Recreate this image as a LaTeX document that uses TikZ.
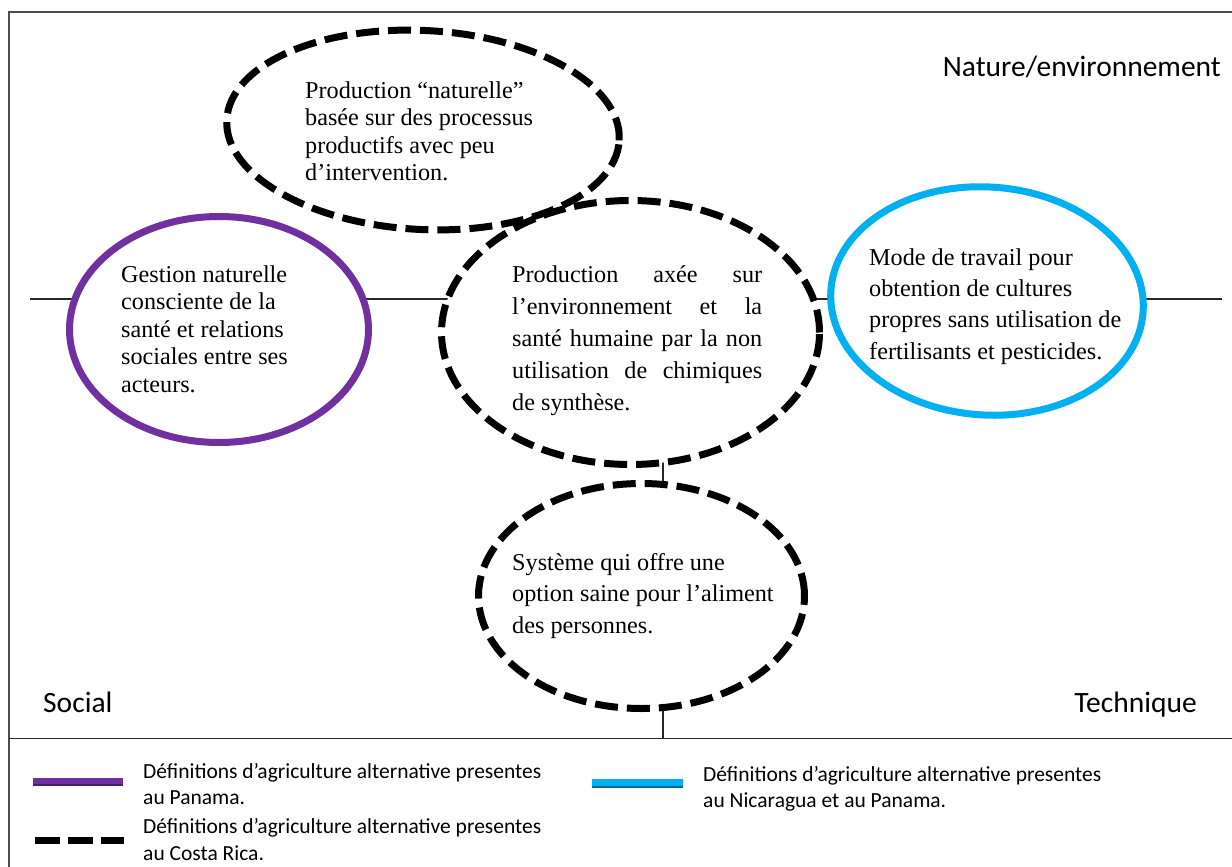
\documentclass[tikz,border=0pt]{standalone}
\usepackage{fontspec}
\setmainfont{Liberation Serif}
\newfontfamily\calibri{Carlito}
\usetikzlibrary{shapes.geometric}
\definecolor{ppurple}{HTML}{7030A0}
\definecolor{pblue}{HTML}{00B0F0}
\begin{document}
\begin{tikzpicture}[x=1pt,y=-1pt,
  ell/.style={ellipse, inner sep=0pt, outer sep=0pt, line width=7pt},
  dashell/.style={ell, draw=black, dash pattern=on 23pt off 9pt},
  txt/.style={anchor=base west, inner sep=0pt, align=left, font=\fontsize{24.2}{27.5}\selectfont},
  txtwide/.style={txt, font=\fontsize{24.2}{31.3}\selectfont},
  txtenv/.style={txt, font=\fontsize{24.2}{32}\selectfont},
  axisline/.style={line width=1.2pt, draw=black!85},
  lab/.style={inner sep=0pt, font=\calibri\fontsize{29.5}{34}\selectfont},
  legtxt/.style={anchor=base west, inner sep=0pt, align=left, font=\calibri\fontsize{21.5}{26.5}\selectfont},
]
\useasboundingbox (0,0) rectangle (1232,867);
\fill[white] (0,0) rectangle (1232,867);
% frame
\draw[line width=1.5pt, black!70] (1232,12) -- (9,12) -- (9,867);
\draw[line width=1.5pt, black!85] (9,738.5) -- (1232,738.5);
% axes
\coordinate (axL) at (30,299);
\coordinate (axR) at (1222,299);
\coordinate (axT) at (663,332);
\coordinate (axB) at (663,738);
\draw[axisline] (axL) -- (axR);
\draw[axisline] (axT) -- (axB);
% ellipses
\node[ell, draw=ppurple, fill=white, minimum width=299pt, minimum height=226pt] (social) at (219,329.5) {};
\node[dashell, fill=white, minimum width=378pt, minimum height=264pt] (envsante) at (630.5,332.5) {};
\node[ell, draw=pblue, fill=white, minimum width=313pt, minimum height=228pt, rotate=-4] (techn) at (987,301) {};
\node[dashell, fill=white, minimum width=326pt, minimum height=225pt] (aliment) at (641.5,596) {};
\node[dashell, minimum width=393pt, minimum height=199pt, rotate=-3] (naturelle) at (423,130) {};
% texts (anchored at the baseline of their last line)
\node[txt] (tnat) at (305,180.5) {Production “naturelle”\\basée sur des processus\\productifs avec peu\\d’intervention.};
\node[txt] (tsoc) at (121,392) {Gestion naturelle\\consciente de la\\santé et relations\\sociales entre ses\\acteurs.};
\node[txtenv] (tenv) at (512,410) {\makebox[250pt][s]{Production axée sur}\\\makebox[250pt][s]{l’environnement et la}\\\makebox[250pt][s]{santé humaine par la non}\\\makebox[250pt][s]{utilisation de chimiques}\\de synthèse.};
\node[txtwide] (ttec) at (869,359) {Mode de travail pour\\obtention de cultures\\propres sans utilisation de\\fertilisants et pesticides.};
\node[txtwide] (talim) at (512,633) {Système qui offre une\\option saine pour l’aliment\\des personnes.};
% axis labels
\node[lab, anchor=base east] (lnat) at (1221,77) {Nature/environnement};
\node[lab, anchor=base west] (lsoc) at (43,712) {Social};
\node[lab, anchor=base east] (ltec) at (1197,712) {Technique};
% legend
\draw[line width=8pt, ppurple] (33,781.5) -- (123,781.5);
\draw[line width=2pt, ppurple!65!black] (33,784.5) -- (123,784.5);
\draw[line width=7pt, dash pattern=on 25pt off 8pt] (35,840.5) -- (124,840.5);
\draw[line width=9pt, pblue] (592,783) -- (683,783);
\draw[line width=2pt, pblue!60!black] (592,786.5) -- (683,786.5);
\node[legtxt] (leg1) at (143,804.5) {Définitions d’agriculture alternative presentes\\au Panama.};
\node[legtxt] (leg2) at (143,860) {Définitions d’agriculture alternative presentes\\au Costa Rica.};
\node[legtxt] (leg3) at (703,807.5) {Définitions d’agriculture alternative presentes\\au Nicaragua et au Panama.};
\end{tikzpicture}
\end{document}
